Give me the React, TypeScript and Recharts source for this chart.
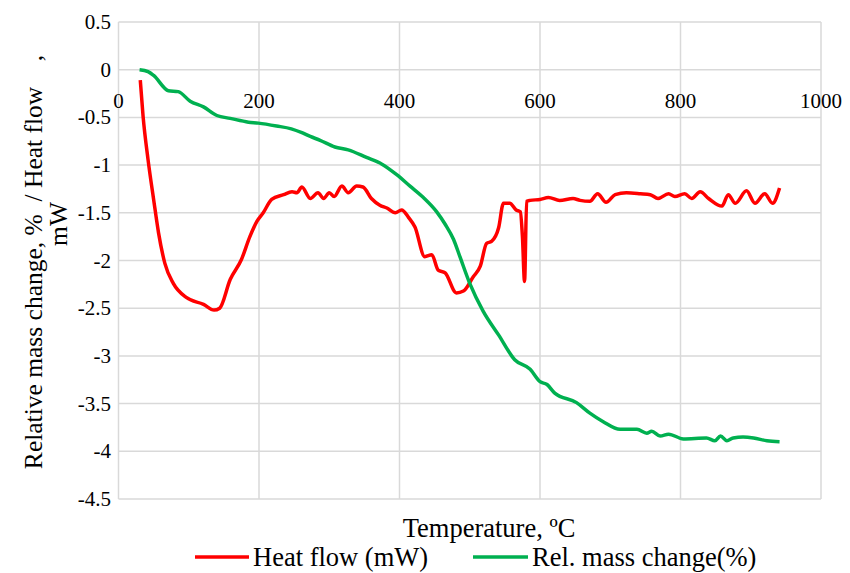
import React from 'react';
import { LineChart, Line, XAxis, YAxis, CartesianGrid, Legend } from 'recharts';

const heatTemp = [31, 35, 42, 50, 57, 66, 78, 97, 121, 136, 144, 159, 175, 187, 197, 206, 218, 235, 247, 254, 261, 273, 284, 292, 300, 307, 318, 327, 339, 348, 360, 372, 382, 394, 403, 413, 422, 436, 446, 455, 465, 481, 491, 505, 515, 524, 531, 541, 548, 557, 566, 572, 575, 578, 581, 586, 600, 612, 628, 647, 657, 671, 682, 694, 707, 723, 743, 757, 768, 783, 792, 806, 816, 828, 840, 859, 868, 878, 894, 906, 920, 931, 941];
const heatFlow = [-0.11, -0.49, -0.94, -1.36, -1.71, -2.03, -2.24, -2.39, -2.46, -2.52, -2.5, -2.2, -1.99, -1.75, -1.59, -1.5, -1.36, -1.31, -1.28, -1.29, -1.23, -1.35, -1.29, -1.35, -1.29, -1.33, -1.22, -1.29, -1.22, -1.23, -1.35, -1.42, -1.45, -1.5, -1.47, -1.55, -1.65, -1.96, -1.94, -2.1, -2.13, -2.34, -2.32, -2.17, -2.06, -1.82, -1.8, -1.66, -1.4, -1.4, -1.47, -1.49, -1.75, -2.22, -1.38, -1.37, -1.36, -1.34, -1.37, -1.35, -1.37, -1.38, -1.3, -1.39, -1.31, -1.29, -1.3, -1.31, -1.35, -1.3, -1.33, -1.3, -1.35, -1.28, -1.35, -1.43, -1.31, -1.4, -1.27, -1.4, -1.3, -1.4, -1.24];

const massTemp = [30, 42, 50, 71, 85, 102, 121, 140, 159, 185, 199, 225, 246, 261, 273, 287, 308, 327, 353, 375, 396, 415, 434, 453, 465, 477, 486, 500, 519, 541, 564, 586, 600, 610, 621, 652, 671, 690, 714, 738, 752, 759, 771, 783, 804, 837, 849, 857, 866, 875, 889, 904, 923, 941];
const massChange = [0, -0.02, -0.06, -0.22, -0.23, -0.33, -0.39, -0.48, -0.51, -0.55, -0.56, -0.59, -0.62, -0.66, -0.7, -0.74, -0.81, -0.84, -0.92, -0.99, -1.1, -1.22, -1.34, -1.49, -1.62, -1.78, -1.96, -2.24, -2.53, -2.78, -3.04, -3.14, -3.27, -3.3, -3.39, -3.49, -3.6, -3.69, -3.77, -3.77, -3.81, -3.79, -3.84, -3.82, -3.87, -3.86, -3.89, -3.84, -3.89, -3.86, -3.85, -3.86, -3.89, -3.9];

const xTicks = [0, 200, 400, 600, 800, 1000];
const yTicks = [0.5, 0, -0.5, -1, -1.5, -2, -2.5, -3, -3.5, -4, -4.5];

const seriesNames = ['Heat flow (mW)', 'Rel. mass change(%)'];
const xTitle = 'Temperature, ºC';
const yTitleLine1 = 'Relative mass change, %  / Heat flow    ,';
const yTitleLine2 = 'mW';

const heatData = heatTemp.map((t, i) => ({ t, v: heatFlow[i] }));
const massData = massTemp.map((t, i) => ({ t, v: massChange[i] }));

const FONT = "'Liberation Serif', 'Times New Roman', serif";
const W = 842;
const H = 565;
const PLOT_LEFT = 110.5;
const PLOT_TOP = 14;
const PLOT_RIGHT = 813;
const PLOT_BOTTOM = 491;
const Y_MAX = 0.5;
const Y_MIN = -4.5;
const zeroY = PLOT_TOP + ((PLOT_BOTTOM - PLOT_TOP) * (Y_MAX - 0)) / (Y_MAX - Y_MIN);

const RED = '#FF0000';
const GREEN = '#00B050';
const txt = { fontFamily: FONT, fill: '#000' };

const XTick = (props: any) => (
  <text x={props.x} y={zeroY + 31} textAnchor="middle" dominantBaseline="central" fontSize={21} style={txt}>
    {props.payload.value}
  </text>
);

const YTick = (props: any) => (
  <text x={PLOT_LEFT - 7.5} y={props.y} textAnchor="end" dominantBaseline="central" fontSize={21} style={txt}>
    {String(props.payload.value)}
  </text>
);

const XTitle = () => (
  <text x={481} y={520} textAnchor="middle" dominantBaseline="central" fontSize={26.5} style={txt}>
    {xTitle}
  </text>
);

const YTitle = () => (
  <g>
    <text
      x={0}
      y={0}
      transform="translate(25,254) rotate(-90)"
      textAnchor="middle"
      dominantBaseline="central"
      fontSize={25.5}
      style={{ ...txt, whiteSpace: 'pre' }}
    >
      {yTitleLine1}
    </text>
    <text
      x={0}
      y={0}
      transform="translate(50,216) rotate(-90)"
      textAnchor="middle"
      dominantBaseline="central"
      fontSize={25.5}
      style={txt}
    >
      {yTitleLine2}
    </text>
  </g>
);

const LegendContent = () => (
  <svg width={W} height={30} style={{ display: 'block' }}>
    <line x1={187} x2={241} y1={15} y2={15} stroke={RED} strokeWidth={3.5} />
    <text x={245} y={15} dominantBaseline="central" fontSize={26.5} style={txt}>
      {seriesNames[0]}
    </text>
    <line x1={465} x2={520} y1={15} y2={15} stroke={GREEN} strokeWidth={3.5} />
    <text x={524} y={15} dominantBaseline="central" fontSize={26.5} style={txt}>
      {seriesNames[1]}
    </text>
  </svg>
);

export default function App() {
  return (
    <LineChart
      width={W}
      height={H}
      margin={{ top: PLOT_TOP, right: W - PLOT_RIGHT, bottom: 0, left: 0 }}
      style={{ fontFamily: FONT }}
    >
      <CartesianGrid stroke="#D9D9D9" strokeWidth={1.5} />
      <XAxis
        dataKey="t"
        type="number"
        domain={[0, 1000]}
        ticks={xTicks}
        interval={0}
        axisLine={false}
        tickLine={false}
        height={H - PLOT_BOTTOM}
        tick={<XTick />}
        label={XTitle}
        allowDataOverflow
      />
      <YAxis
        type="number"
        domain={[Y_MIN, Y_MAX]}
        ticks={yTicks}
        interval={0}
        width={PLOT_LEFT}
        axisLine={false}
        tickLine={false}
        tick={<YTick />}
        label={YTitle}
        allowDataOverflow
      />
      <Legend
        layout="horizontal"
        verticalAlign="middle"
        align="center"
        wrapperStyle={{ top: 534, left: 0, width: W, height: 30 }}
        content={<LegendContent />}
      />
      <Line
        data={heatData}
        dataKey="v"
        name={seriesNames[0]}
        type="monotone"
        stroke={RED}
        strokeWidth={3.5}
        dot={false}
        activeDot={false}
        isAnimationActive={false}
      />
      <Line
        data={massData}
        dataKey="v"
        name={seriesNames[1]}
        type="monotone"
        stroke={GREEN}
        strokeWidth={3.5}
        dot={false}
        activeDot={false}
        isAnimationActive={false}
      />
    </LineChart>
  );
}
